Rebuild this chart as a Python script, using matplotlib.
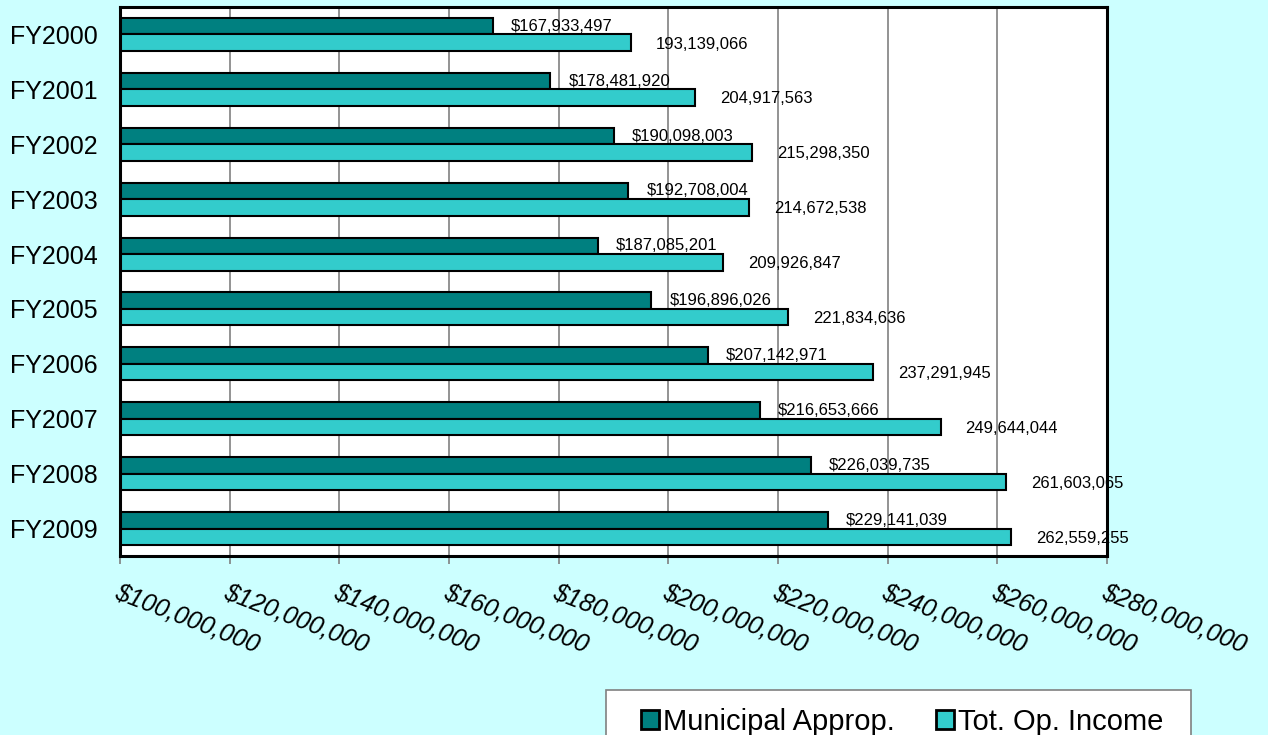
import matplotlib.pyplot as plt
import numpy as np
from matplotlib.patches import Patch, Rectangle
from matplotlib.ticker import FuncFormatter

years = ["FY2000", "FY2001", "FY2002", "FY2003", "FY2004",
         "FY2005", "FY2006", "FY2007", "FY2008", "FY2009"]
municipal = [167933497, 178481920, 190098003, 192708004, 187085201,
             196896026, 207142971, 216653666, 226039735, 229141039]
total_income = [193139066, 204917563, 215298350, 214672538, 209926847,
                221834636, 237291945, 249644044, 261603065, 262559255]

dark = "#008080"
light = "#33CCCC"
bg = "#CCFFFF"

plt.rcParams["font.family"] = ["Liberation Sans", "DejaVu Sans"]

W, H = 1268, 735
fig = plt.figure(figsize=(W / 100, H / 100), dpi=100, facecolor=bg)
ax = fig.add_axes([120 / W, 1 - 556 / H, 987 / W, 549 / H])
ax.set_facecolor("white")

y = np.arange(len(years))
h = 0.30
ax.barh(y - h / 2, municipal, height=h, left=0, color=dark,
        edgecolor="black", linewidth=1.5, zorder=3)
ax.barh(y + h / 2, total_income, height=h, left=0, color=light,
        edgecolor="black", linewidth=1.5, zorder=3)

for yi, v in zip(y, municipal):
    ax.annotate(f"${v:,}", (v, yi - h / 2), xytext=(13, 0),
                textcoords="offset points", va="center", ha="left",
                fontsize=12, zorder=4, annotation_clip=False)
for yi, v in zip(y, total_income):
    ax.annotate(f"{v:,}", (v, yi + h / 2), xytext=(18, -1),
                textcoords="offset points", va="center", ha="left",
                fontsize=12, zorder=4, annotation_clip=False)

ax.set_xlim(100e6, 280e6)
ax.set_ylim(len(years) - 0.5, -0.5)
ax.set_xticks(np.arange(100e6, 280e6 + 1, 20e6))
ax.xaxis.set_major_formatter(FuncFormatter(lambda v, p: f"${v:,.0f}"))
ax.set_yticks(y)
ax.set_yticklabels(years, fontsize=18)
ax.tick_params(axis="y", length=0, pad=16)
ax.tick_params(axis="x", length=6, width=1.2, color="#808080", pad=11)
for lab in ax.get_xticklabels():
    lab.set_rotation(-21)
    lab.set_ha("left")
    lab.set_va("top")
    lab.set_rotation_mode("anchor")
    lab.set_fontsize(18)
    lab.set_fontstyle("italic")

ax.grid(axis="x", color="#808080", linewidth=1.2, zorder=0)
for s in ax.spines.values():
    s.set_linewidth(2.2)
    s.set_color("black")
    s.set_zorder(5)

# legend box, running off the bottom edge like the original
fig.patches.append(Rectangle((606 / W, -0.02), (1191 - 606) / W, 0.02 + 45 / H,
                             transform=fig.transFigure, facecolor="white",
                             edgecolor="#808080", linewidth=1.2))
handles = [Patch(facecolor=dark, edgecolor="black", linewidth=2),
           Patch(facecolor=light, edgecolor="black", linewidth=2)]
leg = fig.legend(handles, ["Municipal Approp.", "Tot. Op. Income"],
                 loc="upper left", bbox_to_anchor=(641 / W, 1 - 708 / H),
                 ncol=2, fontsize=21, frameon=False,
                 handlelength=0.62, handleheight=0.62, handletextpad=0.15,
                 columnspacing=1.4, borderpad=0, borderaxespad=0)

fig.savefig("out.png", dpi=100, facecolor=bg)
